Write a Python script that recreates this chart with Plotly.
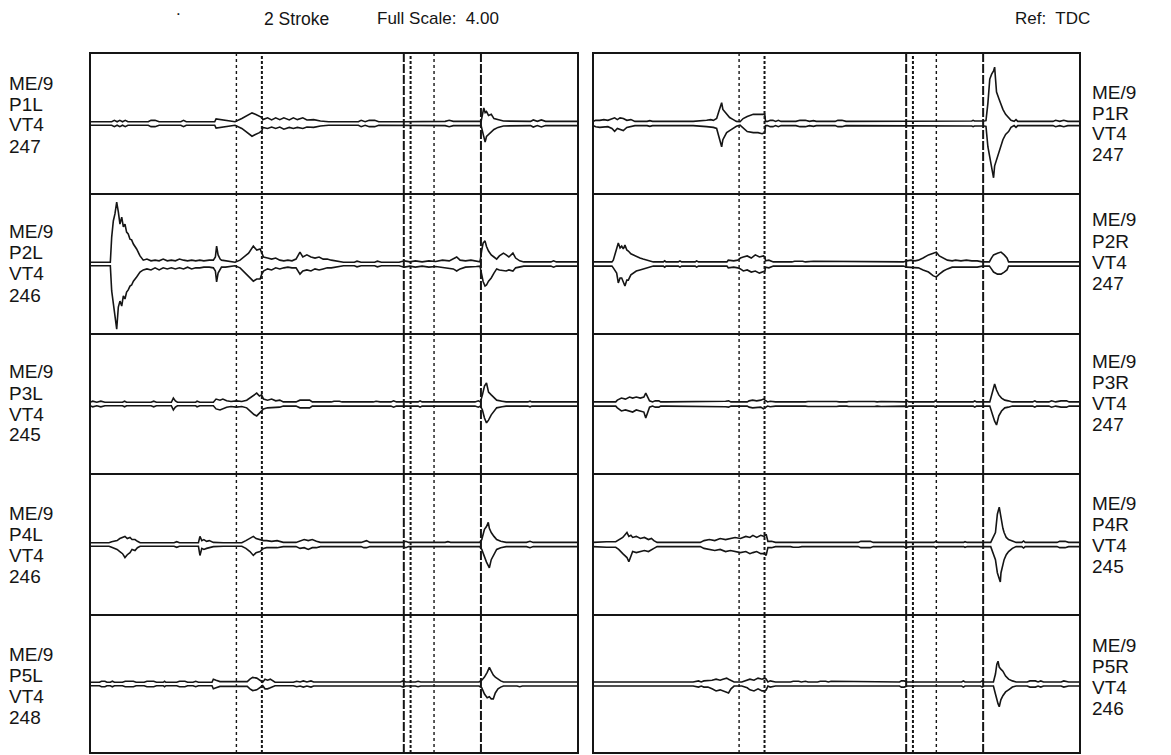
import plotly.graph_objects as go

# ---------------- data (crank angle in degrees, envelope amplitude in full-scale units) ----------------
P1L_deg = [0, 16, 18, 20, 22, 24, 26, 28, 43, 45,
           48, 51, 67, 69, 71, 92, 93, 97, 102, 107,
           112, 116, 119.5, 122, 125, 126.9, 127.5, 131, 134, 137,
           140, 143, 147, 150, 153, 157, 160, 165, 170, 176,
           198, 200, 203, 206, 210, 213, 230, 250, 262, 265,
           268, 288.5, 289.5, 290.5, 291.5, 292.5, 294, 296, 298, 301,
           305, 325, 327, 330, 333, 336, 360]
P1L_up = [.05, .05, .09, .05, .09, .05, .09, .05, .05, .09,
          .09, .05, .05, .09, .05, .05, .13, .11, .09, .05,
          .14, .23, .30, .26, .20, .17, .11, .16, .10, .16,
          .11, .16, .10, .16, .11, .16, .10, .11, .07, .05,
          .05, .09, .05, .09, .09, .05, .05, .06, .06, .09,
          .06, .06, .29, .44, .31, .34, .23, .26, .14, .11,
          .07, .06, .10, .06, .10, .06, .06]
P1L_lo = [.05, .05, .09, .05, .09, .05, .09, .05, .05, .09,
          .09, .05, .05, .09, .05, .05, .13, .11, .09, .05,
          .14, .26, .36, .31, .26, .20, .11, .14, .10, .14,
          .10, .16, .11, .14, .11, .14, .10, .11, .07, .05,
          .05, .09, .05, .09, .09, .05, .05, .06, .06, .09,
          .06, .06, .23, .40, .53, .37, .31, .23, .17, .11,
          .07, .06, .10, .06, .10, .06, .06]

P2L_deg = [0, 15, 16, 17.2, 18.4, 19.7, 20.9, 22.1, 23.4, 24.6,
           25.8, 27, 28.2, 29.5, 30.7, 32, 34.4, 36.9, 39.3, 42,
           45, 48, 51, 54, 57, 60, 63, 66, 69, 72,
           75, 78, 81, 84, 88, 91, 92.5, 93.4, 94.5, 96,
           97, 100, 104, 107, 110.7, 114, 117, 120.5, 123, 125.5,
           126.6, 128, 131, 134, 137, 140, 143, 146, 149, 152,
           154.9, 157, 160, 163, 166, 169, 172, 175, 178, 181,
           184, 187, 195, 197, 200, 210, 212, 215, 228, 232,
           236, 240, 245, 250, 255, 260, 265, 268, 270.5, 273,
           277, 281, 285, 287.7, 289, 290, 291.4, 292.5, 294, 296,
           298, 300, 302, 305, 307, 309, 312, 314, 317, 320,
           340, 342, 344, 360]
P2L_up = [.05, .05, .77, 1.23, 1.43, 1.77, 1.49, 1.14, 1.34, 1.06,
          1.14, .91, .86, .71, .69, .57, .43, .23, .11, .14,
          .09, .11, .09, .14, .09, .11, .09, .14, .11, .09,
          .11, .09, .11, .09, .11, .11, .2, .51, .26, .14,
          .11, .09, .07, .05, .11, .23, .31, .51, .4, .43,
          .3, .2, .17, .14, .17, .11, .09, .11, .09, .14,
          .34, .2, .26, .2, .17, .2, .14, .14, .11, .09,
          .07, .05, .05, .08, .05, .05, .08, .05, .05, .09,
          .06, .09, .06, .09, .07, .11, .09, .14, .2, .11,
          .09, .11, .07, .06, .4, .6, .66, .5, .37, .26,
          .2, .14, .23, .31, .26, .2, .31, .17, .09, .06,
          .06, .09, .06, .06]
P2L_lo = [.05, .05, .77, 1.14, 1.43, 1.86, 1.23, 1.06, 1.2, .91,
          1.0, .8, .74, .63, .6, .49, .37, .23, .17, .14,
          .17, .11, .17, .11, .14, .11, .14, .11, .14, .09,
          .14, .11, .11, .09, .09, .11, .2, .51, .26, .14,
          .09, .09, .07, .05, .11, .23, .34, .49, .43, .43,
          .3, .2, .14, .17, .11, .14, .11, .09, .11, .11,
          .29, .2, .17, .2, .14, .17, .14, .11, .11, .09,
          .07, .05, .05, .08, .05, .05, .08, .05, .05, .09,
          .06, .09, .06, .09, .07, .09, .11, .14, .2, .14,
          .09, .09, .07, .06, .3, .5, .63, .6, .49, .4,
          .26, .14, .17, .2, .2, .17, .2, .11, .09, .06,
          .06, .09, .06, .06]

P3L_deg = [0, 2, 5, 8, 11, 24, 25.5, 27, 45, 47,
           49, 60, 61.5, 63, 64.5, 78, 79, 81, 91, 93,
           95.9, 98, 100.8, 104, 108, 112, 115.6, 119, 121, 123,
           125, 126.6, 128, 131, 134, 137, 140, 142.6, 152, 154.9,
           162, 164, 178, 180, 184, 186, 209, 211, 214, 222,
           224, 226, 242, 243.5, 245, 284, 286.5, 288, 289.5, 291,
           292.5, 294, 296, 298, 300, 304, 307, 323, 324.6, 326,
           330, 332, 334, 360]
P3L_up = [.05, .08, .05, .08, .05, .05, .08, .05, .05, .08,
          .05, .05, .17, .09, .05, .05, .08, .05, .05, .14,
          .11, .14, .09, .07, .09, .07, .11, .2, .26, .31,
          .23, .26, .14, .11, .14, .09, .11, .06, .06, .11,
          .11, .06, .06, .08, .08, .06, .06, .08, .06, .06,
          .09, .06, .06, .09, .06, .06, .09, .06, .26, .51,
          .6, .34, .26, .17, .11, .08, .06, .06, .08, .06,
          .06, .08, .06, .06]
P3L_lo = [.05, .08, .05, .08, .05, .05, .08, .05, .05, .08,
          .05, .05, .17, .09, .05, .05, .08, .05, .05, .14,
          .17, .14, .09, .07, .09, .07, .11, .23, .3, .34,
          .26, .2, .14, .11, .11, .11, .09, .06, .06, .11,
          .11, .06, .06, .08, .08, .06, .06, .08, .06, .06,
          .09, .06, .06, .09, .06, .06, .09, .06, .17, .4,
          .54, .46, .31, .2, .11, .08, .06, .06, .08, .06,
          .06, .08, .06, .06]

P4L_deg = [0, 14, 16, 18, 20, 22, 24, 25.8, 27.5, 29.5,
           31, 33.2, 35, 37, 62, 64, 66, 80, 81.1, 82.5,
           84, 86, 88, 91, 98.4, 112, 115, 118, 120.5, 122.5,
           125.4, 128, 130.3, 134, 138, 142.6, 152, 155, 158, 161,
           164, 167, 170, 200, 202, 204, 206.5, 231, 233, 235,
           262, 264, 266, 287.5, 289, 291, 292.5, 293.8, 294.6, 296,
           298, 300, 303, 307, 322, 324.6, 327, 360]
P4L_up = [.05, .05, .08, .09, .11, .17, .2, .23, .17, .2,
          .14, .14, .09, .05, .05, .08, .05, .05, .23, .11,
          .14, .09, .11, .06, .05, .05, .11, .17, .23, .17,
          .14, .11, .11, .09, .11, .06, .06, .11, .14, .11,
          .14, .09, .06, .06, .09, .11, .06, .06, .09, .06,
          .06, .08, .06, .06, .14, .43, .51, .63, .46, .34,
          .23, .14, .09, .06, .06, .09, .06, .06]
P4L_lo = [.05, .05, .08, .11, .14, .2, .26, .37, .29, .23,
          .14, .17, .09, .05, .05, .08, .05, .05, .31, .11,
          .14, .11, .09, .06, .05, .05, .11, .2, .31, .23,
          .2, .11, .09, .09, .09, .06, .06, .11, .09, .14,
          .09, .09, .06, .06, .09, .09, .06, .06, .09, .06,
          .06, .08, .06, .06, .14, .37, .5, .6, .66, .43,
          .26, .14, .09, .06, .06, .09, .06, .06]

P5L_deg = [0, 7, 8.5, 11, 12.5, 15, 16.5, 18, 24, 26,
           32, 34, 40, 42, 47, 49, 54, 55, 56, 64,
           66, 70, 72, 76, 78, 80, 90, 91, 93, 95.9,
           110, 116, 118, 120, 123, 125.4, 127.4, 129.1, 131, 133,
           136.5, 150, 152.5, 155, 157.4, 160, 163, 165, 185, 187,
           190, 200, 202, 204, 212, 214, 216, 229, 231, 233,
           240, 242, 244, 250, 252, 254, 270, 272, 274, 287,
           289, 291, 293, 294.6, 296, 297.5, 299, 301, 303, 305,
           315, 317, 319, 325, 327, 329, 338, 340, 342, 350,
           352, 354, 360]
P5L_up = [.05, .05, .08, .08, .05, .05, .08, .05, .05, .08,
          .08, .05, .05, .08, .08, .05, .05, .08, .05, .05,
          .08, .08, .05, .05, .08, .05, .05, .14, .11, .07,
          .07, .07, .14, .19, .17, .11, .05, .14, .11, .14,
          .05, .05, .08, .06, .09, .06, .09, .06, .06, .08,
          .06, .06, .08, .06, .06, .08, .06, .06, .09, .06,
          .06, .08, .06, .06, .08, .06, .06, .08, .06, .06,
          .11, .2, .34, .48, .37, .26, .2, .14, .09, .06,
          .06, .08, .06, .06, .08, .06, .06, .08, .06, .06,
          .08, .06, .06]
P5L_lo = [.05, .05, .08, .08, .05, .05, .08, .05, .05, .08,
          .08, .05, .05, .08, .08, .05, .05, .08, .05, .05,
          .08, .08, .05, .05, .08, .05, .05, .14, .11, .07,
          .07, .07, .14, .19, .17, .11, .05, .14, .14, .11,
          .05, .05, .08, .06, .09, .06, .09, .06, .06, .08,
          .06, .06, .08, .06, .06, .08, .06, .06, .09, .06,
          .06, .08, .06, .06, .08, .06, .06, .08, .06, .06,
          .11, .29, .4, .37, .43, .43, .26, .14, .09, .06,
          .06, .08, .06, .06, .08, .06, .06, .08, .06, .06,
          .08, .06, .06]

P1R_deg = [0, 2, 5, 8, 11, 14, 16, 18, 20, 22.4,
           25, 28, 31, 40, 42, 44, 49.5, 51, 53, 55,
           57, 59, 64, 66, 68, 72, 74, 84, 87, 89,
           91.4, 93, 94.5, 95.1, 96, 98.8, 101, 103.7, 106, 108.7,
           111, 114, 118.5, 122, 125, 127, 127.5, 129, 131, 133,
           135, 137, 139, 150, 153, 157, 160, 163, 165, 179,
           181, 184, 187, 200, 202, 206, 209, 213, 235, 245,
           270, 280, 281, 282, 289, 290.5, 291.9, 293.3, 294.7, 296.1,
           296.9, 298.3, 300.2, 303, 305, 307.2, 309, 311.3, 312.7, 314,
           340, 342, 345, 348, 351, 360]
P1R_up = [.06, .09, .09, .11, .09, .14, .16, .11, .16, .14,
          .09, .11, .06, .06, .08, .06, .06, .08, .08, .06,
          .08, .06, .06, .08, .06, .08, .06, .09, .11, .09,
          .14, .34, .49, .59, .4, .26, .17, .11, .06, .05,
          .14, .2, .26, .26, .26, .26, .06, .06, .09, .09,
          .06, .09, .06, .06, .09, .09, .06, .08, .06, .06,
          .09, .09, .06, .06, .08, .08, .08, .06, .06, .07,
          .07, .07, .09, .07, .07, .08, .57, 1.26, 1.4, 1.49,
          1.6, .89, .69, .4, .26, .17, .09, .06, .11, .06,
          .06, .09, .06, .09, .06, .06]
P1R_lo = [.06, .09, .11, .09, .09, .14, .22, .14, .17, .2,
          .11, .09, .06, .06, .08, .06, .06, .08, .08, .06,
          .08, .06, .06, .08, .06, .08, .06, .09, .09, .11,
          .14, .4, .57, .66, .46, .26, .2, .14, .08, .05,
          .14, .23, .26, .26, .29, .26, .06, .06, .09, .09,
          .06, .09, .06, .06, .09, .09, .06, .08, .06, .06,
          .09, .09, .06, .06, .08, .08, .08, .06, .06, .07,
          .07, .07, .09, .07, .07, .08, .66, .97, 1.31, 1.54,
          1.2, 1.03, .74, .46, .31, .23, .11, .06, .11, .06,
          .06, .09, .06, .09, .06, .06]

P2R_deg = [0, 14, 15, 17.5, 18.7, 20, 21.2, 22.4, 23.6, 25,
           26.1, 28, 29.8, 32, 34.7, 37, 39.7, 42, 44.6, 52,
           53, 54, 63, 64.3, 65.5, 75.5, 76.6, 78, 99, 100,
           104, 107, 109, 111.1, 114, 117, 120, 123, 126, 127.1,
           127.5, 130, 133.3, 147, 149, 155, 157, 163, 166, 168,
           171, 173, 177, 179, 203, 205, 210, 213, 216, 219,
           221, 229.4, 232, 235, 238, 240.5, 244, 248, 251.6, 253.8,
           256, 259, 262, 265.5, 268, 272, 276, 280, 284, 287.8,
           293, 294.5, 296.1, 299, 301.6, 304, 306, 307.2, 325, 327,
           330, 332, 338, 341, 345, 349, 352, 360]
P2R_up = [.06, .06, .11, .46, .6, .46, .51, .43, .54, .4,
          .37, .29, .26, .2, .17, .14, .11, .09, .06, .06,
          .09, .06, .06, .09, .06, .06, .09, .06, .06, .11,
          .09, .11, .17, .2, .23, .17, .26, .2, .23, .2,
          .09, .11, .06, .06, .08, .08, .06, .08, .08, .06,
          .06, .08, .08, .06, .06, .08, .08, .06, .08, .08,
          .06, .06, .09, .11, .09, .11, .17, .26, .31, .34,
          .23, .17, .11, .09, .11, .09, .11, .09, .09, .06,
          .06, .17, .26, .31, .34, .26, .17, .06, .06, .08,
          .08, .06, .08, .06, .08, .08, .06, .06]
P2R_lo = [.06, .06, .11, .26, .54, .4, .4, .54, .63, .46,
          .46, .31, .26, .2, .17, .14, .11, .09, .06, .06,
          .09, .06, .06, .09, .06, .06, .09, .06, .06, .11,
          .09, .11, .14, .2, .17, .23, .2, .26, .2, .2,
          .09, .11, .06, .06, .08, .08, .06, .08, .08, .06,
          .06, .08, .08, .06, .06, .08, .08, .06, .08, .08,
          .06, .06, .09, .09, .11, .11, .17, .23, .34, .37,
          .29, .2, .14, .09, .09, .09, .11, .09, .09, .06,
          .06, .14, .23, .29, .29, .23, .17, .06, .06, .08,
          .08, .06, .08, .06, .08, .08, .06, .06]

P3R_deg = [0, 16.8, 18, 21, 24, 27, 29.3, 32, 35, 37.6,
           39, 40.5, 41.8, 44, 46, 48.7, 50, 54.3, 70, 71,
           72, 90, 93.2, 96, 98, 100.2, 102, 114, 115.4, 118,
           121, 124, 126, 128, 129, 131, 134.9, 157, 159, 180,
           182, 187.7, 189, 208, 210, 213, 220, 221, 231, 232.2,
           233.5, 252, 253, 254.5, 281, 282.2, 283.5, 293.3, 294.5, 295.5,
           296.9, 298.3, 300, 302, 304.4, 307, 310, 325, 326.6, 328,
           337, 339, 342, 346, 350, 352, 360]
P3R_up = [.06, .06, .11, .17, .14, .2, .17, .2, .17, .2,
          .31, .2, .09, .06, .09, .09, .06, .06, .06, .08,
          .06, .06, .08, .06, .08, .09, .06, .06, .09, .11,
          .09, .11, .14, .09, .06, .08, .06, .06, .07, .07,
          .06, .06, .07, .07, .06, .07, .07, .06, .06, .09,
          .06, .06, .09, .06, .06, .09, .06, .06, .26, .4,
          .57, .4, .26, .17, .11, .09, .06, .06, .09, .06,
          .06, .09, .06, .09, .09, .06, .06]
P3R_lo = [.06, .06, .11, .2, .17, .2, .23, .17, .2, .23,
          .4, .26, .09, .06, .09, .09, .06, .06, .06, .08,
          .06, .06, .08, .06, .08, .09, .06, .06, .09, .11,
          .11, .09, .14, .09, .06, .08, .06, .06, .07, .07,
          .06, .06, .07, .07, .06, .07, .07, .06, .06, .09,
          .06, .06, .09, .06, .06, .09, .06, .06, .2, .37,
          .49, .6, .34, .2, .11, .09, .06, .06, .09, .06,
          .06, .09, .06, .09, .09, .06, .06]

P4R_deg = [0, 5, 10, 16.8, 19, 22, 25.1, 26.5, 28, 29.3,
           32, 35, 38, 41, 43.2, 45, 47.4, 79.3, 82.1, 86,
           90, 94, 98, 101.6, 105, 109, 113, 116, 118.2, 121,
           124, 126.6, 128, 129.3, 132, 134.9, 146, 148, 152, 154.4,
           196, 198, 205, 207.2, 229.4, 231, 235, 252, 253.5, 255,
           274, 275, 276.6, 290, 292, 294, 297.5, 298.9, 300.3, 301.1,
           301.6, 303, 303.9, 305.5, 307.2, 310, 312.8, 317, 318.3, 319.5,
           343, 345, 349, 351.6, 360]
P4R_up = [.06, .08, .08, .08, .14, .2, .34, .23, .26, .2,
          .23, .17, .2, .14, .17, .11, .06, .06, .11, .14,
          .11, .17, .14, .17, .2, .17, .23, .2, .26, .2,
          .26, .23, .29, .09, .09, .06, .06, .08, .08, .06,
          .06, .09, .09, .06, .06, .08, .06, .06, .09, .06,
          .06, .08, .06, .06, .08, .06, .34, .86, 1.06, .86,
          .71, .46, .34, .2, .14, .09, .06, .06, .1, .06,
          .06, .09, .09, .06, .06]
P4R_lo = [.06, .08, .08, .08, .14, .26, .37, .49, .31, .2,
          .23, .2, .17, .2, .14, .11, .06, .06, .11, .14,
          .17, .14, .2, .17, .2, .23, .2, .26, .23, .2,
          .26, .26, .31, .09, .09, .06, .06, .08, .08, .06,
          .06, .09, .09, .06, .06, .08, .06, .06, .09, .06,
          .06, .08, .06, .06, .08, .06, .43, .8, .97, 1.06,
          .8, .51, .43, .29, .2, .11, .06, .06, .1, .06,
          .06, .09, .09, .06, .06]

P5R_deg = [0, 29, 31, 38, 40.4, 54, 56, 62, 64, 66,
           72, 74, 78, 80, 82, 84.9, 88, 91, 94, 96,
           98.8, 100.2, 102, 104.3, 110, 114, 116, 119, 122, 125,
           127, 128, 129.3, 131, 134.9, 146, 148, 152, 154, 157,
           159, 166, 168, 172, 174, 176, 180, 183, 204, 206,
           211, 213, 226.6, 228, 230, 232.2, 272.5, 273.8, 275, 286.5,
           287.7, 289, 296, 297.5, 298.5, 299.4, 300.3, 301.5, 303, 305,
           307.2, 310, 312.8, 321, 323, 327, 329, 331, 333, 346,
           348, 351.6, 360]
P5R_up = [.06, .06, .08, .08, .06, .06, .08, .08, .06, .08,
          .08, .06, .09, .06, .09, .09, .11, .14, .11, .14,
          .17, .14, .11, .06, .06, .11, .14, .11, .17, .14,
          .17, .14, .06, .09, .06, .06, .08, .08, .06, .08,
          .06, .06, .08, .08, .06, .08, .08, .06, .06, .08,
          .08, .06, .06, .09, .09, .06, .06, .09, .06, .06,
          .09, .06, .06, .29, .57, .66, .49, .43, .37, .23,
          .14, .09, .06, .06, .09, .09, .06, .09, .06, .06,
          .09, .06, .06]
P5R_lo = [.06, .06, .08, .08, .06, .06, .08, .08, .06, .08,
          .08, .06, .09, .06, .09, .09, .14, .2, .17, .2,
          .23, .26, .14, .06, .06, .11, .17, .2, .14, .2,
          .2, .17, .06, .09, .06, .06, .08, .08, .06, .08,
          .06, .06, .08, .08, .06, .08, .08, .06, .06, .08,
          .08, .06, .06, .09, .09, .06, .06, .09, .06, .06,
          .09, .06, .06, .29, .46, .57, .66, .46, .34, .23,
          .17, .09, .06, .06, .09, .09, .06, .09, .06, .06,
          .09, .06, .06]

# channel labels (row, side): lines of text
LEFT_LABELS = [["ME/9", "P1L", "VT4", "247"],
               ["ME/9", "P2L", "VT4", "246"],
               ["ME/9", "P3L", "VT4", "245"],
               ["ME/9", "P4L", "VT4", "246"],
               ["ME/9", "P5L", "VT4", "248"]]
RIGHT_LABELS = [["ME/9", "P1R", "VT4", "247"],
                ["ME/9", "P2R", "VT4", "247"],
                ["ME/9", "P3R", "VT4", "247"],
                ["ME/9", "P4R", "VT4", "245"],
                ["ME/9", "P5R", "VT4", "246"]]

# reference crank-angle markers (degrees)
MARK_DEG = [108, 126.8, 231.5, 236.5, 253.8, 288.4]

LEFT = [(P1L_deg, P1L_up, P1L_lo), (P2L_deg, P2L_up, P2L_lo), (P3L_deg, P3L_up, P3L_lo),
        (P4L_deg, P4L_up, P4L_lo), (P5L_deg, P5L_up, P5L_lo)]
RIGHT = [(P1R_deg, P1R_up, P1R_lo), (P2R_deg, P2R_up, P2R_lo), (P3R_deg, P3R_up, P3R_lo),
         (P4R_deg, P4R_up, P4R_lo), (P5R_deg, P5R_up, P5R_lo)]

# ---------------- layout geometry (pixels) ----------------
W, H = 1171, 755
COL_X = [(90, 578), (593, 1080)]
ROW_Y = [53, 194, 334, 474, 615, 753]
LEFT_LABEL_Y = [[83, 104, 125, 146], [231, 252, 273, 295], [372, 393, 414, 435],
                [513, 534, 555, 576], [654, 675, 696, 717]]
RIGHT_LABEL_Y = [[92, 113, 134, 155], [220, 241, 262, 283], [361, 382, 403, 424],
                 [503, 524, 545, 566], [645, 666, 687, 708]]

def px(x):
    return x / W

def py(y):
    return 1 - y / H

FONT = "Liberation Sans, Arial, Helvetica, sans-serif"
INK = "#151515"

fig = go.Figure()
layout = dict(width=W, height=H, margin=dict(l=0, r=0, t=0, b=0),
              paper_bgcolor="white", plot_bgcolor="white", showlegend=False)

MARK_STYLE = [("dot", 1.4), ("3px,2px", 2.0), ("9px,2px", 2.0),
              ("3px,2px", 2.0), ("dot", 1.4), ("9px,2px", 2.0)]

shapes = []
n = 0
for c, col in enumerate([LEFT, RIGHT]):
    for r, (deg, up, lo) in enumerate(col):
        n += 1
        xa = "x" if n == 1 else f"x{n}"
        ya = "y" if n == 1 else f"y{n}"
        key_x = "xaxis" if n == 1 else f"xaxis{n}"
        key_y = "yaxis" if n == 1 else f"yaxis{n}"
        layout[key_x] = dict(domain=[px(COL_X[c][0]), px(COL_X[c][1])], range=[0, 360],
                             anchor=ya, visible=False, fixedrange=True)
        layout[key_y] = dict(domain=[py(ROW_Y[r + 1]), py(ROW_Y[r])], range=[-2, 2],
                             anchor=xa, visible=False, fixedrange=True)
        for d, (dash, w) in zip(MARK_DEG, MARK_STYLE):
            shapes.append(dict(type="line", xref=xa, yref=f"{ya} domain",
                               x0=d, x1=d, y0=0, y1=1,
                               line=dict(color=INK, width=w, dash=dash)))
        fig.add_trace(go.Scatter(x=deg, y=up, mode="lines", xaxis=xa, yaxis=ya,
                                 line=dict(color=INK, width=1.6), hoverinfo="skip"))
        fig.add_trace(go.Scatter(x=deg, y=[-v for v in lo], mode="lines", xaxis=xa, yaxis=ya,
                                 line=dict(color=INK, width=1.6), hoverinfo="skip"))

# panel frames and row dividers
for x0, x1 in COL_X:
    shapes.append(dict(type="rect", xref="paper", yref="paper",
                       x0=px(x0), x1=px(x1), y0=py(ROW_Y[-1]), y1=py(ROW_Y[0]),
                       line=dict(color=INK, width=2), fillcolor="rgba(0,0,0,0)"))
    for yb in ROW_Y[1:-1]:
        shapes.append(dict(type="line", xref="paper", yref="paper",
                           x0=px(x0), x1=px(x1), y0=py(yb), y1=py(yb),
                           line=dict(color=INK, width=2)))

annotations = []

def add_text(txt, x, y, size=17):
    annotations.append(dict(text=txt, x=px(x), y=py(y), xref="paper", yref="paper",
                            xanchor="left", yanchor="middle", showarrow=False,
                            font=dict(family=FONT, size=size, color=INK)))

add_text(".", 174, 9, 17)
add_text("2 Stroke", 262, 19, 17.5)
add_text("Full Scale:\u00a0 4.00", 375, 19, 17)
add_text("Ref:\u00a0 TDC", 1013, 19, 17)

for r in range(5):
    for txt, y in zip(LEFT_LABELS[r], LEFT_LABEL_Y[r]):
        add_text(txt, 7, y, 19)
    for txt, y in zip(RIGHT_LABELS[r], RIGHT_LABEL_Y[r]):
        add_text(txt, 1090, y, 19)

layout["shapes"] = shapes
layout["annotations"] = annotations
fig.update_layout(**layout)
fig.write_html("out.html")
